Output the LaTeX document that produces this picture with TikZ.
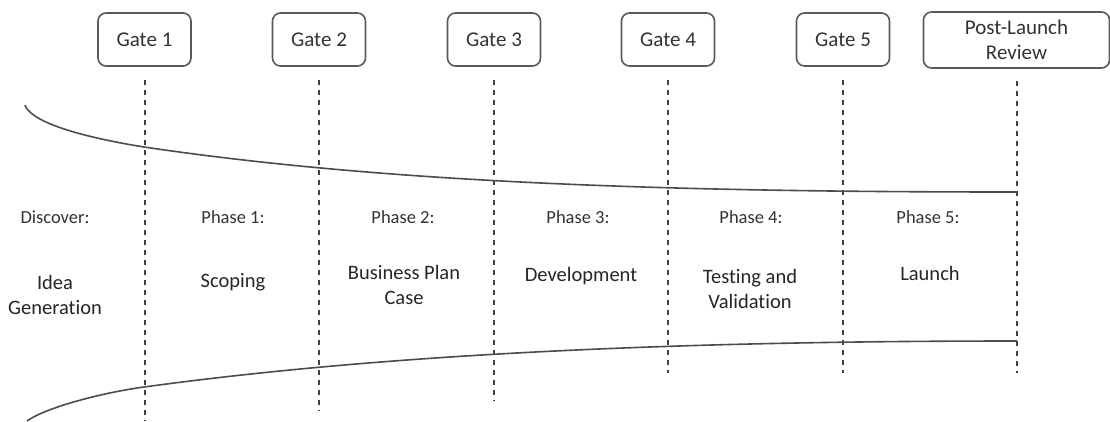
\documentclass[tikz,border=0pt]{standalone}
\usepackage{fontspec}
\setmainfont{Carlito}[Ligatures={NoCommon}]
\begin{document}
\begin{tikzpicture}[x=1pt,y=-1pt,
  gate/.style={draw=black!65, line width=1.6pt, rounded corners=8pt,
    minimum width=93pt, minimum height=53pt, inner sep=0pt, align=center,
    font=\fontsize{21}{25}\selectfont, text=black!80},
  gateline/.style={draw=black!75, line width=2pt, dash pattern=on 5.5pt off 4.5pt},
  funnel/.style={draw=black!70, line width=1.6pt},
  phase/.style={font=\fontsize{18.5}{22}\selectfont, text=black!80},
  stage/.style={font=\fontsize{20.5}{25}\selectfont, text=black!85, align=center}]
\useasboundingbox[fill=white] (0,0) rectangle (1110,421);

% gate boxes along the top
\node[gate] (g1) at (144.5,39.5) {Gate 1};
\node[gate] (g2) at (319,39.5) {Gate 2};
\node[gate] (g3) at (494,39.5) {Gate 3};
\node[gate] (g4) at (668,39.5) {Gate 4};
\node[gate] (g5) at (843,39.5) {Gate 5};
\node[gate, minimum width=186pt, minimum height=56pt] (plr) at (1016.5,40) {Post-Launch\\Review};

% lower ends of the gate lines
\coordinate (b1) at (144.5,421);
\coordinate (b2) at (319,410);
\coordinate (b3) at (494,400);
\coordinate (b4) at (668,373);
\coordinate (b5) at (843,373);
\coordinate (b6) at (1016.5,373);

\draw[gateline] ([yshift=-13pt]g1.south) -- (b1);
\draw[gateline] ([yshift=-13pt]g2.south) -- (b2);
\draw[gateline] ([yshift=-13pt]g3.south) -- (b3);
\draw[gateline] ([yshift=-13pt]g4.south) -- (b4);
\draw[gateline] ([yshift=-13pt]g5.south) -- (b5);
\draw[gateline] ([yshift=-12pt]plr.south) -- (b6);

% funnel outline
\draw[funnel] (25,105) .. controls (30,120) and (70,135) .. (144,147)
  .. controls (400,185) and (700,192) .. (1017,192);
\draw[funnel] (27,421) .. controls (45,408) and (100,393) .. (144,387)
  .. controls (400,352) and (700,341) .. (1017,341);

% phase headings
\node[phase] (p0) at (55,217) {Discover:};
\node[phase] (p1) at (233,217) {Phase 1:};
\node[phase] (p2) at (403,217) {Phase 2:};
\node[phase] (p3) at (578,217) {Phase 3:};
\node[phase] (p4) at (751,217) {Phase 4:};
\node[phase] (p5) at (928,217) {Phase 5:};

% stage names
\node[stage] (s0) at (55,294.5) {Idea\\Generation};
\node[stage] (s1) at (233,282) {Scoping};
\node[stage] (s2) at (404,285) {Business Plan\\Case};
\node[stage] (s3) at (581,276) {Development};
\node[stage] (s4) at (750,288.5) {Testing and\\Validation};
\node[stage] (s5) at (930,273) {Launch};
\end{tikzpicture}
\end{document}
